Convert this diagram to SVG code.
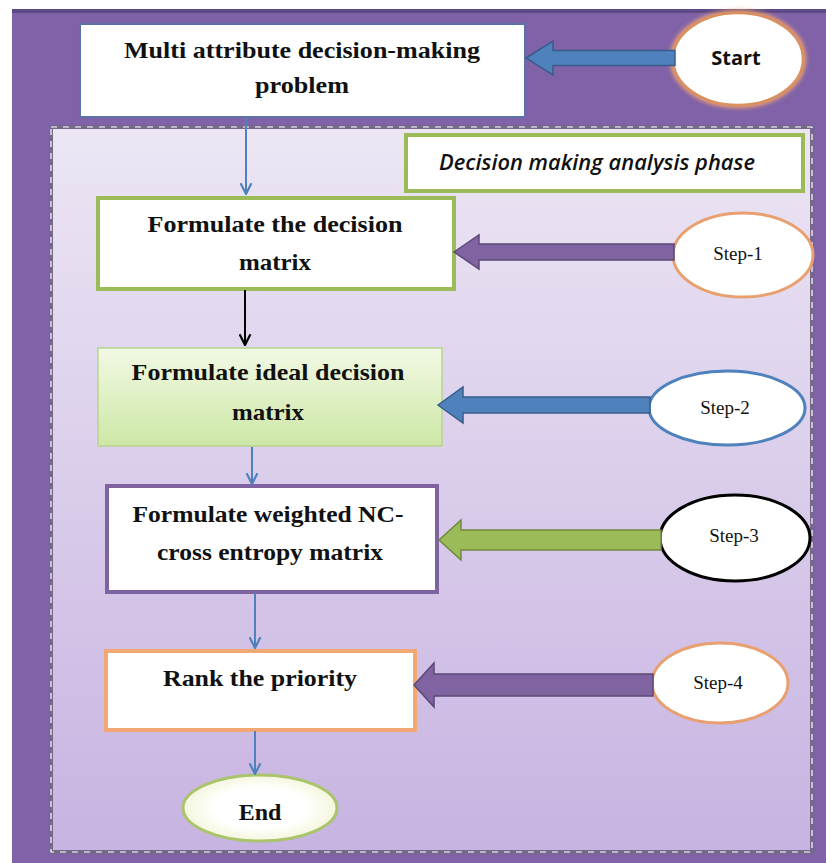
<svg xmlns="http://www.w3.org/2000/svg" width="826" height="863" viewBox="0 0 826 863">
<defs>
<linearGradient id="phaseBg" x1="0" y1="0" x2="0" y2="1">
<stop offset="0" stop-color="#ece6f4"/>
<stop offset="1" stop-color="#c7b3e1"/>
</linearGradient>
<linearGradient id="greenFill" x1="0" y1="0" x2="0" y2="1">
<stop offset="0" stop-color="#f2f9e4"/>
<stop offset="1" stop-color="#cde7a6"/>
</linearGradient>
<radialGradient id="endFill" cx="0.5" cy="0.5" r="0.5">
<stop offset="0.6" stop-color="#ffffff"/>
<stop offset="1" stop-color="#f4f6dc"/>
</radialGradient>
<filter id="glow" x="-20%" y="-20%" width="140%" height="140%">
<feGaussianBlur stdDeviation="2"/>
</filter>
<marker id="vheadBlue" viewBox="0 0 12 12" refX="11" refY="6" markerWidth="13" markerHeight="13" markerUnits="userSpaceOnUse" orient="auto">
<path d="M1,1 L11,6 L1,11" fill="none" stroke="#4f81bd" stroke-width="2"/>
</marker>
<marker id="vheadBlack" viewBox="0 0 12 12" refX="11" refY="6" markerWidth="13" markerHeight="13" markerUnits="userSpaceOnUse" orient="auto">
<path d="M1,1 L11,6 L1,11" fill="none" stroke="#000000" stroke-width="2"/>
</marker>
</defs>
<style>
.box{fill:#ffffff;}
.t{font-family:"Liberation Serif","Times New Roman",serif;font-weight:bold;font-size:24px;fill:#111111;text-anchor:middle;}
.step{font-family:"Liberation Serif","Times New Roman",serif;font-size:19px;fill:#111111;text-anchor:middle;}
.sans{font-family:"Open Sans","Liberation Sans",Arial,sans-serif;fill:#111111;text-anchor:middle;}
.conn{stroke:#4f81bd;stroke-width:2;fill:none;marker-end:url(#vheadBlue);}
</style>

<!-- background -->
<rect x="0" y="0" width="826" height="863" fill="#ffffff"/>
<rect x="12" y="9" width="814" height="854" fill="#7f62a8"/>
<rect x="12" y="9" width="814" height="4" fill="#5e4a86"/>

<!-- phase container -->
<g id="phase">
<rect x="51" y="127" width="761" height="725" fill="url(#phaseBg)" stroke="#756888" stroke-width="4"/>
<rect x="51" y="127" width="761" height="725" fill="none" stroke="#ffffff" stroke-width="1.2" stroke-dasharray="6,6"/>
</g>

<g id="problem">
<rect class="box" x="80" y="24" width="445" height="93" stroke="#5a72a8" stroke-width="2"/>
<text class="t" x="302" y="58" textLength="356" lengthAdjust="spacingAndGlyphs">Multi attribute decision-making</text>
<text class="t" x="302" y="93" textLength="94" lengthAdjust="spacingAndGlyphs">problem</text>
</g>

<g id="start">
<ellipse cx="738" cy="59" rx="65" ry="46" fill="none" stroke="#f0a070" stroke-width="6" filter="url(#glow)"/>
<ellipse cx="738" cy="59" rx="65" ry="46" fill="#ffffff" stroke="#d9905c" stroke-width="2.5"/>
<text class="sans" x="736" y="65" font-size="20" font-weight="bold">Start</text>
</g>

<g id="phaseLabel">
<rect class="box" x="406" y="135" width="397" height="56" stroke="#9bbb59" stroke-width="4"/>
<text class="sans" x="597" y="170" font-size="21" font-style="italic" font-weight="600" textLength="316" lengthAdjust="spacingAndGlyphs">Decision making analysis phase</text>
</g>

<g id="step1box">
<rect class="box" x="98" y="198" width="356" height="91" stroke="#9bbb59" stroke-width="4"/>
<text class="t" x="275" y="232" textLength="255" lengthAdjust="spacingAndGlyphs">Formulate the decision</text>
<text class="t" x="275" y="270" textLength="72" lengthAdjust="spacingAndGlyphs">matrix</text>
</g>

<g id="step1">
<ellipse cx="743" cy="255" rx="70" ry="42" fill="#ffffff" stroke="#e8a070" stroke-width="3"/>
<text class="step" x="738" y="260">Step-1</text>
</g>

<g id="step2box">
<rect x="98" y="348" width="344" height="98" fill="url(#greenFill)" stroke="#b8d48e" stroke-width="1.5"/>
<text class="t" x="268" y="380" textLength="273" lengthAdjust="spacingAndGlyphs">Formulate ideal decision</text>
<text class="t" x="268" y="420" textLength="72" lengthAdjust="spacingAndGlyphs">matrix</text>
</g>

<g id="step2">
<ellipse cx="727" cy="408" rx="78" ry="37" fill="#ffffff" stroke="#4f81bd" stroke-width="3"/>
<text class="step" x="725" y="414">Step-2</text>
</g>

<g id="step3box">
<rect class="box" x="107" y="486" width="330" height="106" stroke="#7f63a0" stroke-width="4"/>
<text class="t" x="268" y="522" textLength="271" lengthAdjust="spacingAndGlyphs">Formulate weighted NC-</text>
<text class="t" x="270" y="560" textLength="226" lengthAdjust="spacingAndGlyphs">cross entropy matrix</text>
</g>

<g id="step3">
<ellipse cx="735" cy="538" rx="75" ry="43" fill="#ffffff" stroke="#000000" stroke-width="3"/>
<text class="step" x="734" y="542">Step-3</text>
</g>

<g id="step4box">
<rect class="box" x="106" y="651" width="309" height="79" stroke="#f2a873" stroke-width="4"/>
<text class="t" x="260" y="686" textLength="194" lengthAdjust="spacingAndGlyphs">Rank the priority</text>
</g>

<g id="step4">
<ellipse cx="720" cy="683" rx="68" ry="40" fill="#ffffff" stroke="#e8a070" stroke-width="3"/>
<text class="step" x="718" y="689">Step-4</text>
</g>

<g id="end">
<ellipse cx="260" cy="808" rx="77" ry="33" fill="url(#endFill)" stroke="#a9c46c" stroke-width="3"/>
<text class="t" x="260" y="820">End</text>
</g>

<g id="connectors">
<polygon points="526,58 553,41 553,50.5 675,50.5 675,65.5 553,65.5 553,75" fill="#4f81bd" stroke="#385d8a" stroke-width="1.5"/>
<polygon points="454,252 479,235 479,244 674,244 674,260 479,260 479,269" fill="#8064a2" stroke="#5c4776" stroke-width="1.5"/>
<polygon points="438,405 463,387 463,397 650,397 650,413 463,413 463,423" fill="#4f81bd" stroke="#385d8a" stroke-width="1.5"/>
<polygon points="439,540 461,520 461,530 661,530 661,550 461,550 461,560" fill="#9bbb59" stroke="#71893f" stroke-width="1.5"/>
<polygon points="414,685 434,663 434,674 653,674 653,696 434,696 434,707" fill="#8064a2" stroke="#5c4776" stroke-width="1.5"/>
<line class="conn" x1="246" y1="118" x2="246" y2="194"/>
<line x1="245" y1="290" x2="245" y2="345" stroke="#000000" stroke-width="2" marker-end="url(#vheadBlack)"/>
<line class="conn" x1="252" y1="447" x2="252" y2="484"/>
<line class="conn" x1="255" y1="593" x2="255" y2="648"/>
<line class="conn" x1="255" y1="731" x2="255" y2="774"/>
</g>
</svg>
